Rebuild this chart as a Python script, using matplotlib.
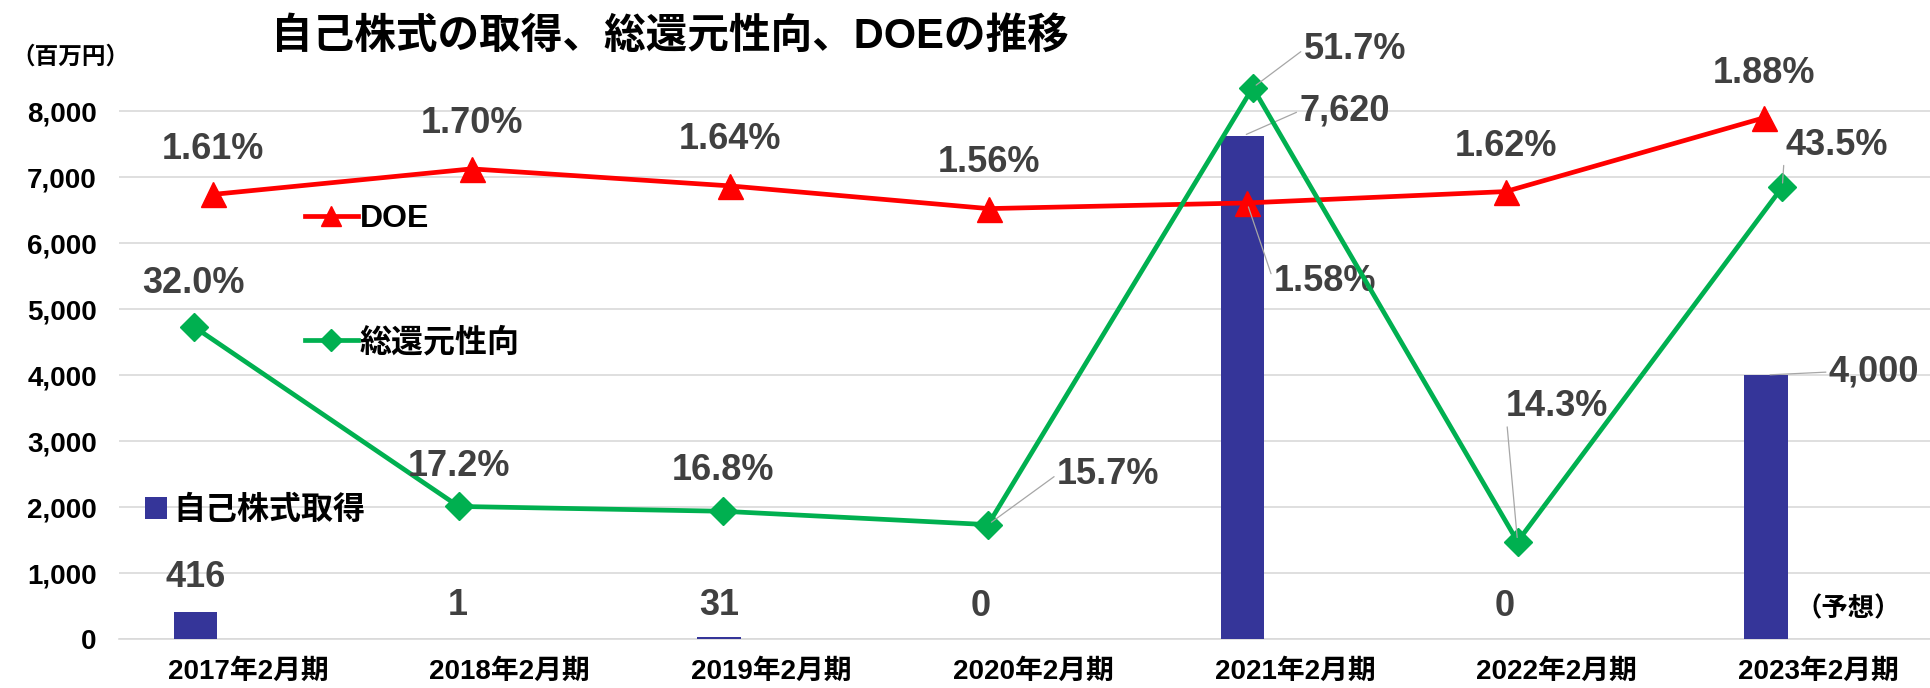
import matplotlib.pyplot as plt
import numpy as np

plt.rcParams['font.family'] = ['Liberation Sans', 'Noto Sans CJK JP', 'DejaVu Sans']

# data
cats = ['2017年2月期', '2018年2月期', '2019年2月期', '2020年2月期',
        '2021年2月期', '2022年2月期', '2023年2月期']
buyback = [416, 1, 31, 0, 7620, 0, 4000]          # 自己株式取得 (百万円)
doe = [1.61, 1.70, 1.64, 1.56, 1.58, 1.62, 1.88]  # DOE (%)
payout = [32.0, 17.2, 16.8, 15.7, 51.7, 14.3, 43.5]  # 総還元性向 (%)
yticks = [0, 1000, 2000, 3000, 4000, 5000, 6000, 7000, 8000]

x = np.arange(len(cats))

W_PX, H_PX = 1930, 688
fig = plt.figure(figsize=(W_PX / 100, H_PX / 100), dpi=100)
rect = [119 / W_PX, 49 / H_PX, 1811 / W_PX, 599 / H_PX]

LABEL_C = '#404040'
LEAD_C = '#A6A6A6'
PX = 0.72  # px -> pt


def put_label(axis, xi, yi, text, off, leader=False):
    kw = dict(textcoords='offset points', ha='center', va='center',
              fontsize=26, fontweight='bold', color=LABEL_C)
    if leader:
        kw['arrowprops'] = dict(arrowstyle='-', color=LEAD_C, lw=0.9,
                                shrinkA=0, shrinkB=3, relpos=(0, 0.5))
    axis.annotate(text, xy=(xi, yi), xytext=(off[0] * PX, off[1] * PX),
                  annotation_clip=False, **kw)


# --- bars (primary axis) ---
ax = fig.add_axes(rect)
bars = ax.bar(x - 0.2, buyback, width=0.165, color='#353599', label='自己株式取得', zorder=3)
ax.set_xlim(-0.493, 6.427)
ax.set_ylim(0, 9076)
ax.set_yticks(yticks, [f'{v:,}' for v in yticks], fontsize=20, fontweight='bold')
ax.set_xticks(x, cats, fontsize=20, fontweight='bold')
ax.tick_params(length=0)
ax.tick_params(axis='y', pad=16)
ax.tick_params(axis='x', pad=14)
ax.grid(axis='y', color='#D9D9D9', lw=1.2)
ax.set_axisbelow(True)
for s in ['top', 'right', 'left']:
    ax.spines[s].set_visible(False)
ax.spines['bottom'].set_color('#D9D9D9')
ax.spines['bottom'].set_linewidth(1.2)

bar_off = [(0, 34), (0, 33), (0, 31), (0, 33), (102, 25), (0, 33), (108, 3)]
bar_lead = [False, False, False, False, True, False, True]
for i, v in enumerate(buyback):
    put_label(ax, x[i] - 0.2, v, f'{v:,}', bar_off[i], bar_lead[i])

ax.legend(handles=[bars], loc='center left', frameon=False,
          bbox_to_anchor=(145 / W_PX, 1 - 511 / H_PX), bbox_transform=fig.transFigure,
          borderaxespad=0, borderpad=0, handlelength=0.68, handleheight=0.68,
          handletextpad=0.2, prop=dict(size=23, weight='bold'))

# --- DOE line ---
axr = fig.add_axes(rect)
axr.axis('off')
axr.set_xlim(-0.364, 6.642)
axr.set_ylim(0.0437, 2.154)
l_doe, = axr.plot(x, doe, color='#FF0000', lw=3.4, marker='^', ms=18, label='DOE')
doe_off = [(0, 45), (0, 45), (0, 46), (0, 46), (78, -79), (0, 45), (0, 44)]
for i, v in enumerate(doe):
    put_label(axr, x[i], v, f'{v:.2f}%', doe_off[i], i == 4)
axr.legend(handles=[l_doe], loc='center left', frameon=False,
           bbox_to_anchor=(305 / W_PX, 1 - 219 / H_PX), bbox_transform=fig.transFigure,
           borderaxespad=0, borderpad=0, handlelength=1.65, handletextpad=0.07,
           markerscale=0.8, prop=dict(size=23, weight='bold'))

# --- 総還元性向 line ---
axg = fig.add_axes(rect)
axg.axis('off')
axg.set_xlim(-0.283, 6.558)
axg.set_ylim(6.28, 55.62)
l_pay, = axg.plot(x, payout, color='#00B050', lw=3.4, marker='D', ms=14, label='総還元性向')
pay_off = [(0, 43), (0, 40), (0, 41), (120, 50), (102, 38), (39, 135), (54, 42)]
for i, v in enumerate(payout):
    put_label(axg, x[i], v, f'{v:.1f}%', pay_off[i], i >= 3)
axg.legend(handles=[l_pay], loc='center left', frameon=False,
           bbox_to_anchor=(305 / W_PX, 1 - 343 / H_PX), bbox_transform=fig.transFigure,
           borderaxespad=0, borderpad=0, handlelength=1.65, handletextpad=0.07,
           markerscale=0.8, prop=dict(size=23, weight='bold'))

# titles and notes
fig.text(670 / W_PX, 1 - 37 / H_PX, '自己株式の取得、総還元性向、DOEの推移',
         ha='center', va='center', fontsize=30, fontweight='bold')
fig.text(70 / W_PX, 1 - 57 / H_PX, '（百万円）', ha='center', va='center',
         fontsize=17, fontweight='bold')
fig.text(1848 / W_PX, 1 - 609 / H_PX, '（予想）', ha='center', va='center',
         fontsize=19, fontweight='bold')

fig.savefig('out.png', dpi=100)
